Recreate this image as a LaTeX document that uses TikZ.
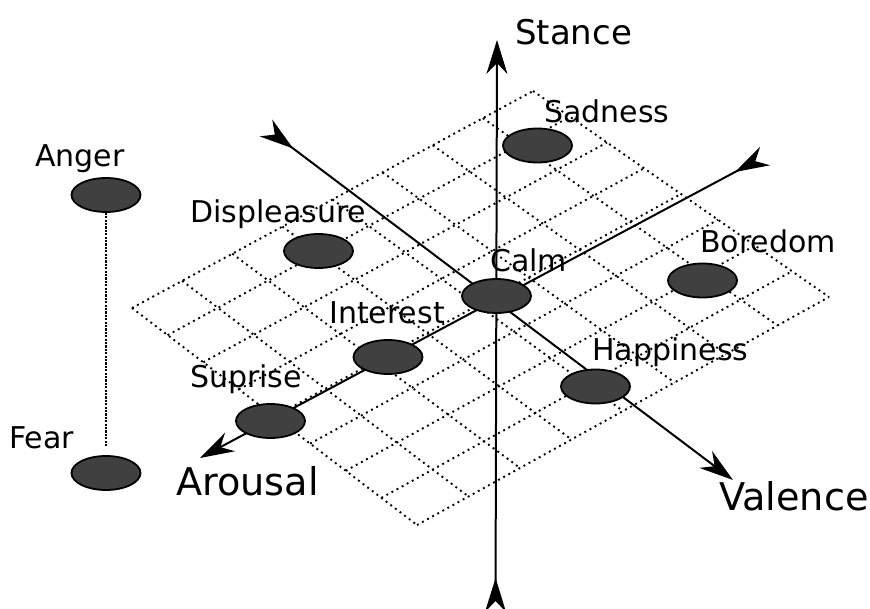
\documentclass[tikz,border=0pt]{standalone}
\usepackage{fontspec}
\setmainfont{DejaVu Sans}
\usetikzlibrary{shapes.geometric,arrows.meta,calc}
\definecolor{emofill}{HTML}{404040}
\tikzset{
  emo/.style={ellipse,draw=black,line width=1.8pt,fill=emofill,minimum width=69pt,minimum height=34pt,inner sep=0pt},
  lbl/.style={anchor=base west,inner sep=0pt,font=\fontsize{30}{36}\selectfont},
  biglbl/.style={anchor=base west,inner sep=0pt,font=\fontsize{38.2}{45}\selectfont},
  gridline/.style={line width=1.9pt,dash pattern=on 1.9pt off 3.9pt},
  axis/.style={line width=2pt,{Stealth[reversed,length=34pt,width=21pt,inset=11pt]}-{Stealth[length=34pt,width=21pt,inset=11pt]}},
  link/.style={line width=2pt,dash pattern=on 2.2pt off 1.2pt}
}
\begin{document}
\begin{tikzpicture}[x=1pt,y=-1pt]
\useasboundingbox (0,0) rectangle (870,609);
% labels
\node[lbl,font=\fontsize{34}{40}\selectfont] (tStance) at (515,45) {Stance};
\node[lbl] (tSad) at (544,123) {Sadness};
\node[lbl] (tAnger) at (35,167) {Anger};
\node[lbl] (tDis) at (190,223) {Displeasure};
\node[lbl] (tCalm) at (490,272) {Calm};
\node[lbl] (tBor) at (700,253) {Boredom};
\node[lbl] (tInt) at (329,324) {Interest};
\node[lbl] (tHap) at (592,361) {Happiness};
\node[lbl] (tSup) at (190,388) {Suprise};
\node[lbl] (tFear) at (9,448) {Fear};
\node[biglbl] (tAro) at (176,495) {Arousal};
\node[biglbl] (tVal) at (719,510) {Valence};
% grid
\coordinate (L) at (132,308);
\coordinate (T) at (533,91);
\coordinate (R) at (829,297);
\coordinate (B) at (417,525);
\foreach \i in {0,...,8}{
  \draw[gridline] ($(L)!\i/8!(B)$) -- ($(T)!\i/8!(R)$);
  \draw[gridline] ($(L)!\i/8!(T)$) -- ($(B)!\i/8!(R)$);
}
% axes
\begin{scope}
\clip (0,0) rectangle (870,609);
\coordinate (stanceA) at (495.5,612);
\coordinate (stanceB) at (497,40);
\coordinate (valA) at (266,128);
\coordinate (valB) at (733,480);
\coordinate (aroA) at (765,156);
\coordinate (aroB) at (200,458);
\draw[axis] (stanceA) -- (stanceB);
\draw[axis] (valA) -- (valB);
\draw[axis] (aroA) -- (aroB);
\end{scope}
% emotions
\node[emo] (sad) at (537.5,145.5) {};
\node[emo] (bor) at (702.5,280.5) {};
\node[emo] (calm) at (496.5,296) {};
\node[emo] (dis) at (318.5,251) {};
\node[emo] (int) at (388,357) {};
\node[emo] (sup) at (270.5,421) {};
\node[emo] (hap) at (595.5,386.5) {};
\node[emo] (anger) at (106,195) {};
\node[emo] (fear) at (106,473) {};
\draw[link,shorten >=8pt] (anger.south) -- (fear.north);
\end{tikzpicture}
\end{document}
